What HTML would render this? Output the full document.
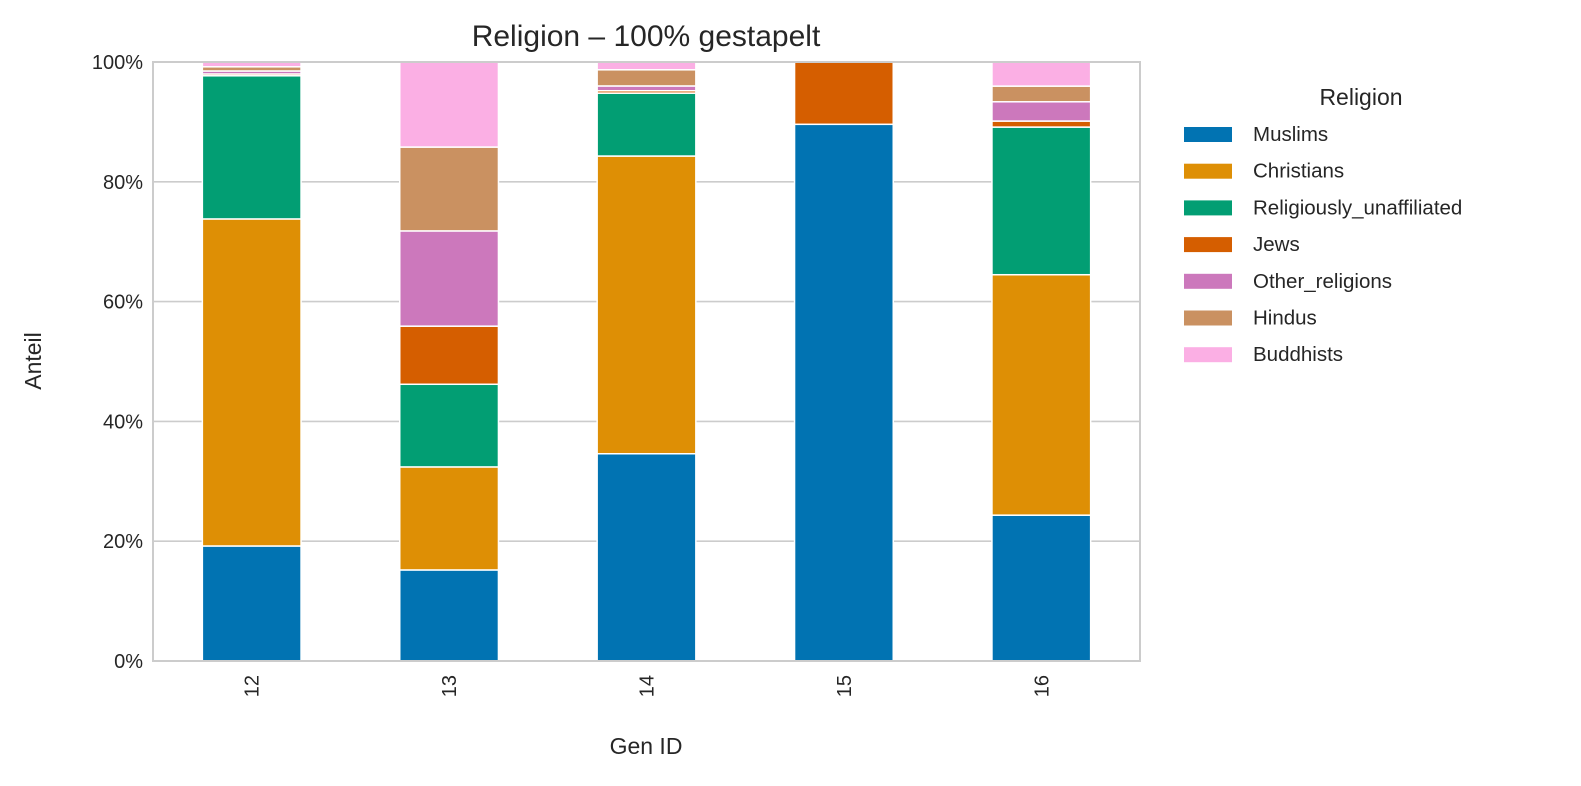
<!DOCTYPE html>
<html><head><meta charset="utf-8"><style>
html,body{margin:0;padding:0;background:#fff;overflow:hidden;width:1581px;height:786px;}
svg{display:block;}
svg text{font-family:"Liberation Sans","DejaVu Sans",sans-serif;fill:#262626;}
</style></head><body>
<svg id="chart" width="1581" height="786" xmlns="http://www.w3.org/2000/svg">
<rect width="1581" height="786" fill="#fff"/>
<text x="646" y="46" font-size="30" text-anchor="middle">Religion – 100% gestapelt</text>
<g id="grid"></g><g id="bars"></g><g id="axes"></g><g id="legend"></g>
<text x="646" y="754" font-size="23" text-anchor="middle">Gen ID</text>
<text transform="translate(41,361) rotate(-90)" font-size="23" text-anchor="middle">Anteil</text>
</svg>
<script>
const categories = ["12","13","14","15","16"];
const seriesNames = ["Muslims","Christians","Religiously_unaffiliated","Jews","Other_religions","Hindus","Buddhists"];
const colors = ["#0173b2","#de8f05","#029e73","#d55e00","#cc78bc","#ca9161","#fbafe4"];
const muslims = [19.2,15.2,34.6,89.6,24.2];
const christians = [54.6,17.2,49.7,0,39.9];
const unaffiliated = [23.9,13.8,10.5,0,24.5];
const jews = [0.3,9.7,0.4,10.4,1.0];
const otherReligions = [0.5,15.9,0.8,0,3.2];
const hindus = [0.7,14.0,2.7,0,2.6];
const buddhists = [0.8,14.2,1.3,0,4.0];
const yTicks = [0,20,40,60,80,100];
const seriesValues = [muslims,christians,unaffiliated,jews,otherReligions,hindus,buddhists];

const NS="http://www.w3.org/2000/svg";
const L=153,R=1140,T=62,B=661;
const step=(R-L)/categories.length;
const xC=i=>L+step*(i+0.5);
const yS=v=>B-(B-T)*v/100;
function mk(tag,attrs,parent){const e=document.createElementNS(NS,tag);for(const k in attrs)e.setAttribute(k,attrs[k]);parent.appendChild(e);return e;}
const grid=document.getElementById('grid'),bars=document.getElementById('bars'),axes=document.getElementById('axes'),legend=document.getElementById('legend');
yTicks.forEach(t=>{
  const ln=mk('line',{x1:L,x2:R,y1:yS(t),y2:yS(t),stroke:'#cccccc','stroke-width':1.6},grid);
  
  
  const tx=mk('text',{x:L-10,y:yS(t)+7,'font-size':20,'text-anchor':'end'},axes);
  tx.textContent=t+'%';
  
  
});
categories.forEach((c,i)=>{
  const tot=seriesValues.reduce((s,a)=>s+a[i],0);
  let cum=0;
  seriesValues.forEach((arr,j)=>{
    const v=arr[i]/tot*100;
    if(v<=0){return;}
    const y0=yS(cum),y1=yS(cum+v);
    const r=mk('rect',{x:xC(i)-step/4,y:y1,width:step/2,height:y0-y1,fill:colors[j],stroke:'#fff','stroke-width':1.5},bars);
    
    
    cum+=v;
  });
  const tx=mk('text',{transform:`translate(${xC(i)+7},${B+14}) rotate(-90)`,'font-size':20,'text-anchor':'end'},axes);
  tx.textContent=c;
  
  
});
const fr=mk('rect',{x:L,y:T,width:R-L,height:B-T,fill:'none',stroke:'#cccccc','stroke-width':2},axes);


const lt=mk('text',{x:1361,y:105,'font-size':23,'text-anchor':'middle'},legend);
lt.textContent='Religion';


seriesNames.forEach((n,j)=>{
  const y=134+j*36.7;
  const p=mk('rect',{x:1184,y:y-7,width:48,height:15,fill:colors[j]},legend);
  
  
  const t=mk('text',{x:1253,y:y+7,'font-size':20.5},legend);
  t.textContent=n;
  
  
});
</script>
</body></html>
